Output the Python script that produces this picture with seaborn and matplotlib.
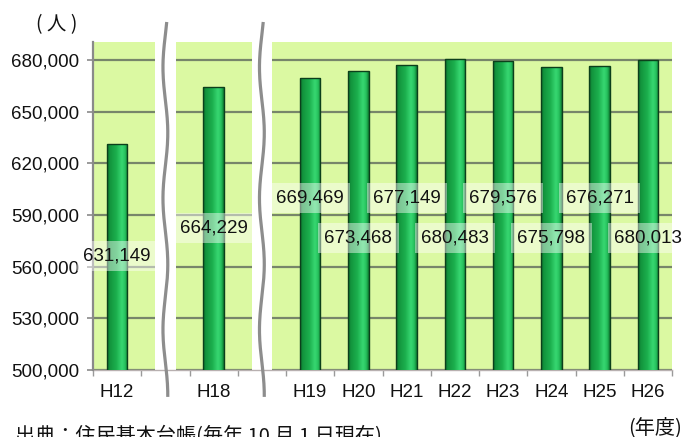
import numpy as np
import pandas as pd
import matplotlib
matplotlib.use("Agg")
import matplotlib.pyplot as plt
from matplotlib.colors import LinearSegmentedColormap
from matplotlib.transforms import blended_transform_factory
import seaborn as sns

# Population by fiscal year (persons)
years = ["H12", "H18", "H19", "H20", "H21", "H22", "H23", "H24", "H25", "H26"]
population = [631149, 664229, 669469, 673468, 677149, 680483, 679576, 675798, 676271, 680013]
y_ticks = [500000, 530000, 560000, 590000, 620000, 650000, 680000]

# Axis slots: two empty slots hold the axis-break marks
gap_slots = ["gap_a", "gap_b"]
slot_order = ["H12", "gap_a", "H18", "gap_b", "H19", "H20", "H21", "H22",
              "H23", "H24", "H25", "H26"]

# Vertical placement of each value label (alternating rows)
label_rows = [566300, 582500, 599900, 576700, 599900, 576700, 599900, 576700, 599900, 576700]

df = pd.DataFrame({"year": years, "population": population})

sns.set_theme(style="white")
plt.rcParams["font.family"] = ["Liberation Sans", "Noto Sans CJK JP", "DejaVu Sans"]

fig = plt.figure(figsize=(6.87, 4.37), dpi=100)
ax = fig.add_axes([93 / 687, 67 / 437, (672 - 93) / 687, (370 - 42) / 437])
ax.set_facecolor("#dbf9a2")

sns.barplot(data=df, x="year", y="population", order=slot_order,
            width=0.42, color="#1aa84a", ax=ax, zorder=3)

ymin, ymax = 500000, 690500
ax.set_ylim(ymin, ymax)
ax.set_xlim(-0.5, len(slot_order) - 0.5)

# Cylinder-like horizontal shading on every bar
bar_cmap = LinearSegmentedColormap.from_list(
    "bar_shade",
    [(0.0, "#0b6a2a"), (0.12, "#12933c"), (0.45, "#1cb04e"),
     (0.72, "#38d872"), (0.88, "#26c05c"), (1.0, "#0e7a31")])
shade = np.linspace(0, 1, 64).reshape(1, -1)
for p in list(ax.patches):
    h = p.get_height()
    if not np.isfinite(h) or h <= 0:
        continue
    x0, w = p.get_x(), p.get_width()
    img = ax.imshow(shade, cmap=bar_cmap, aspect="auto",
                    extent=(x0, x0 + w, ymin, h), zorder=3.1,
                    interpolation="bicubic")
    img.set_clip_path(p)
    p.set_facecolor("none")
    p.set_edgecolor("#0c3f1b")
    p.set_linewidth(1.0)
    p.set_zorder(3.2)
ax.set_ylim(ymin, ymax)
ax.set_xlim(-0.5, len(slot_order) - 0.5)

# Horizontal grid
ax.set_yticks(y_ticks)
ax.set_yticklabels([f"{v:,}" for v in y_ticks])
for v in y_ticks:
    ax.axhline(v, color="#77866a", lw=1.6, zorder=1)

# Axis breaks: white band plus wavy grey line
trans = blended_transform_factory(ax.transData, ax.transAxes)
ty = np.linspace(-0.082, 1.061, 200)
for s in gap_slots:
    xc = slot_order.index(s)
    ax.axvspan(xc - 0.21, xc + 0.21, color="white", zorder=2, lw=0)
    wx = xc + 0.05 * np.sin((ty - 1.061) * 2 * np.pi / 0.4 + 0.6)
    ax.plot(wx, ty, color="#8d8d8d", lw=2.3, transform=trans,
            clip_on=False, zorder=4, solid_capstyle="butt")

# Value labels
pos = {c: i for i, c in enumerate(slot_order)}
for yr, val, ly in zip(years, population, label_rows):
    ax.text(pos[yr], ly, f"{val:,}", ha="center", va="center",
            fontsize=13.5, color="#111111", zorder=5,
            bbox=dict(boxstyle="square,pad=0.33", fc="white", ec="none", alpha=0.45))

# Category ticks
ax.set_xticks(range(len(slot_order)))
ax.set_xticklabels(["" if c in gap_slots else c for c in slot_order])
ax.set_xticks(np.arange(-0.5, len(slot_order), 1.0), minor=True)
ax.tick_params(axis="x", which="major", length=0, pad=10, labelsize=13.5, colors="#111111")
ax.tick_params(axis="x", which="minor", length=4, width=1, color="#9a9a9a", bottom=True)
ax.tick_params(axis="y", length=4, width=1.2, color="#8a8a8a", pad=6,
               labelsize=13.5, labelcolor="#111111", left=True)
ax.set_xlabel("")
ax.set_ylabel("")

for side in ["top", "right"]:
    ax.spines[side].set_visible(False)
ax.spines["left"].set_color("#8a8a8a")
ax.spines["left"].set_linewidth(1.6)
ax.spines["bottom"].set_color("#b8b0b0")
ax.spines["bottom"].set_linewidth(1.0)
ax.spines["left"].set_zorder(4)

# Unit labels and source note
jp = ["Noto Sans CJK JP", "DejaVu Sans"]
fig.text(57 / 687, 1 - 25 / 437, "( 人 )", ha="center", va="center",
         fontsize=14, family=jp, color="#111111")
fig.text(655 / 687, 1 - 428 / 437, "(年度)", ha="center", va="center",
         fontsize=14.5, family=jp, color="#111111")
fig.text(15 / 687, -5 / 437, "出典：住民基本台帳(毎年 10 月 1 日現在)",
         ha="left", va="baseline", fontsize=14.5, family=jp, color="#111111")

fig.savefig("out.png", dpi=100)
